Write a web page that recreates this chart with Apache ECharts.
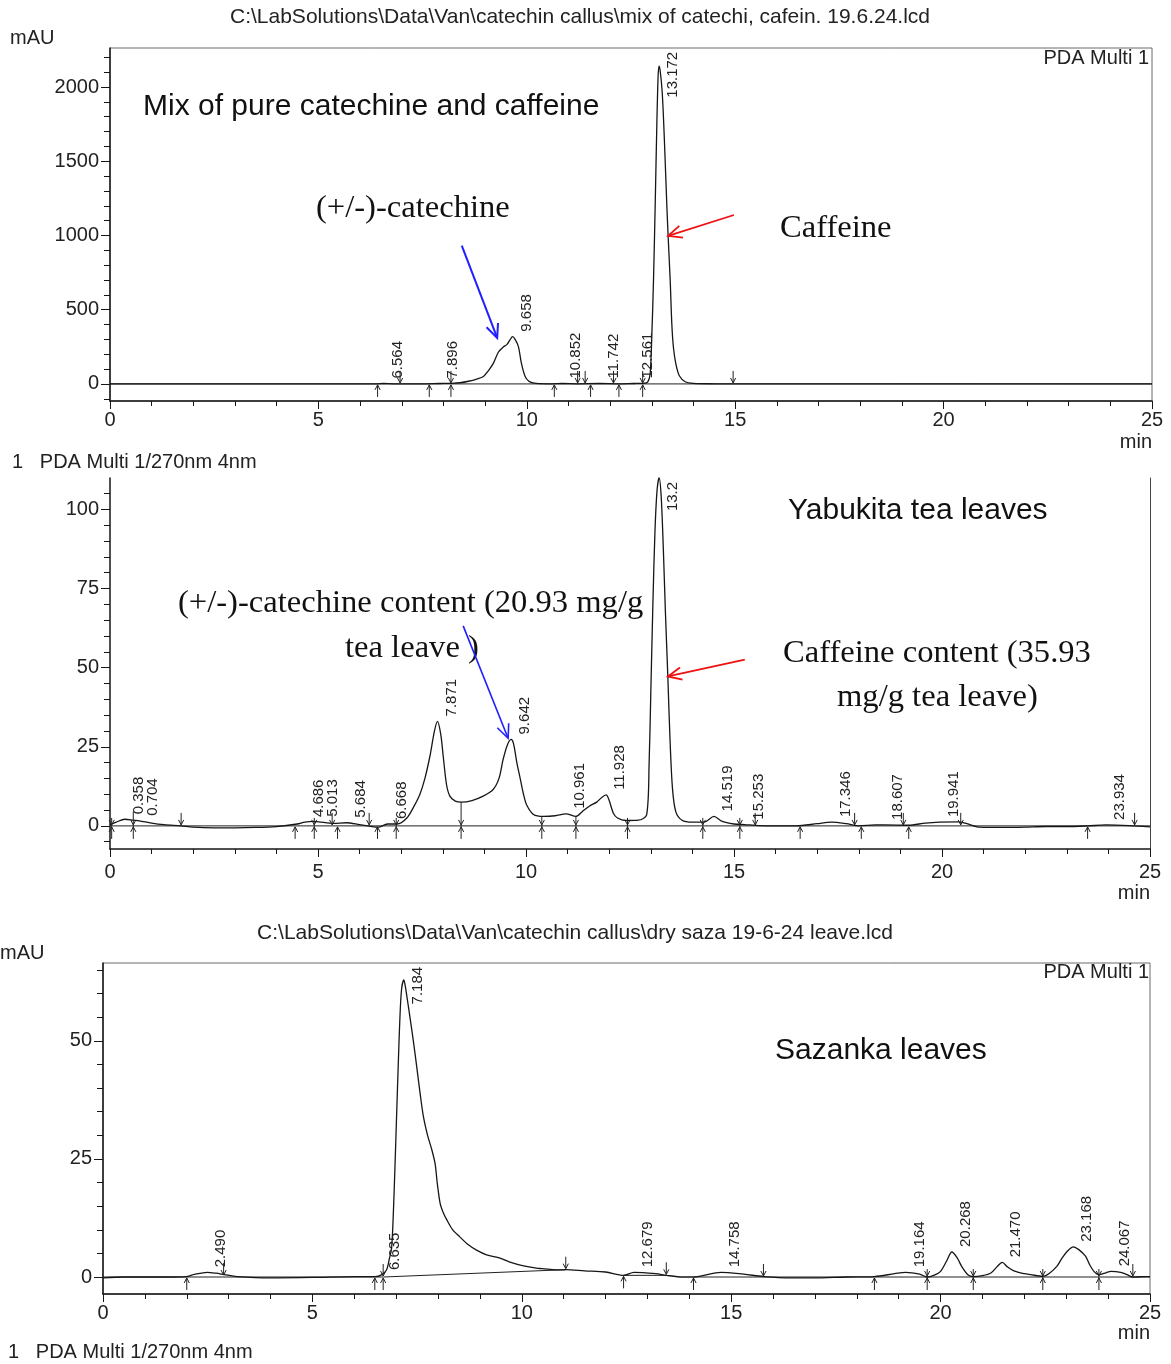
<!DOCTYPE html>
<html>
<head>
<meta charset="utf-8">
<title>HPLC chromatograms – catechin and caffeine</title>
<script src="https://cdn.jsdelivr.net/npm/echarts@6/dist/echarts.min.js"></script>
<style>
  html, body { margin: 0; padding: 0; background: #fff; }
  #chart { width: 1171px; height: 1364px; }
</style>
</head>
<body>
<div id="chart"></div>
<script>
// ---------- fonts ----------
const SANS = "'Liberation Sans', Arial, Helvetica, sans-serif";
const SERIF = "'Liberation Serif', 'Times New Roman', serif";

// ---------- axis ticks ----------
const timeRange = [0, 25];
const mixTicks = [0, 500, 1000, 1500, 2000];
const teaTicks = [0, 25, 50, 75, 100];
const sazTicks = [0, 25, 50];
const mixRange = [-115, 2263];
const teaRange = [-7.3, 109.9];
const sazRange = [-3.6, 66.5];

// ---------- panel 1: standard mix (time [min], absorbance [mAU]) ----------
const mixTrace = [
  [0, 0], [1, 0.5], [2, 0], [3, 0.5], [4, 0], [5, 0], [6, 0.5], [6.4, 0.8], [6.564, 3], [6.8, 1],
  [7.5, 1], [7.896, 3], [8.2, 4], [8.4, 8], [8.6, 18], [8.8, 33], [8.96, 50], [9.08, 90], [9.2, 140],
  [9.32, 215], [9.44, 250], [9.52, 265], [9.6, 298], [9.658, 318], [9.72, 300], [9.8, 250], [9.87, 140],
  [9.96, 50], [10.05, 18], [10.15, 7], [10.3, 2], [10.6, 1], [10.852, 3], [11.2, 1], [11.742, 3],
  [12.2, 1], [12.561, 3], [12.8, 4], [12.9, 12], [12.96, 70], [13.0, 330], [13.04, 700], [13.08, 1200],
  [13.12, 1750], [13.15, 2070], [13.172, 2141], [13.2, 2110], [13.25, 1960], [13.3, 1650], [13.36, 1200],
  [13.39, 1000], [13.44, 700], [13.48, 400], [13.52, 240], [13.58, 130], [13.66, 55], [13.8, 15],
  [14.0, 4], [14.5, 1], [15, 0], [17, 0], [19, 0], [21, 0], [25, 0]
];
const mixPeaks = ['6.564', '7.896', '9.658', '10.852', '11.742', '12.561', '13.172'];
const mixBase = [[[0, 0], [25, 0]]];
const mixUp = [[6.42, 0], [7.66, 0], [8.18, 0], [10.66, 0], [11.53, 0], [12.21, 0], [12.78, 0]];
const mixDown = [[6.96, 0], [8.18, 0], [11.22, 0], [11.40, 0], [12.08, 0], [12.78, 0], [14.95, 0]];
const mixCuts = [];

// ---------- panel 2: Yabukita tea leaves ----------
const teaTrace = [
  [0, 0.3], [0.15, 1.2], [0.358, 2.1], [0.56, 1.8], [0.704, 1.6], [1.0, 0.9], [1.3, 0.4], [1.7, 0],
  [2.0, -0.4], [2.5, -0.6], [3.0, -0.6], [3.5, -0.5], [4.0, -0.2], [4.5, 0.6], [4.686, 1.2], [4.9, 1.4],
  [5.013, 1.3], [5.37, 0.8], [5.684, 1.0], [6.0, 0.4], [6.2, 0], [6.45, -0.4], [6.668, 0.6], [6.9, 0.6],
  [7.13, 2.4], [7.3, 6], [7.45, 10], [7.57, 15], [7.69, 22], [7.8, 30], [7.871, 33], [7.95, 29],
  [8.01, 22], [8.09, 13], [8.17, 9.4], [8.3, 7.8], [8.45, 7.5], [8.7, 8], [8.97, 9.4], [9.21, 11.5],
  [9.35, 15], [9.45, 21], [9.55, 25.5], [9.642, 27.3], [9.7, 26], [9.78, 20], [9.86, 15], [9.94, 10],
  [10.02, 6.5], [10.18, 3.6], [10.42, 3], [10.7, 3.2], [10.961, 3.8], [11.2, 3], [11.35, 4.5],
  [11.53, 6.3], [11.7, 7.5], [11.82, 9], [11.928, 9.8], [12.0, 8], [12.1, 4], [12.2, 2.5], [12.4, 1.7],
  [12.7, 1.8], [12.9, 3.5], [12.96, 20], [13.0, 42], [13.05, 70], [13.1, 93], [13.15, 106], [13.2, 110],
  [13.25, 104], [13.3, 88], [13.35, 68], [13.41, 47], [13.46, 28], [13.52, 12], [13.6, 4.5],
  [13.75, 1.8], [14.0, 1.2], [14.3, 1.3], [14.519, 3], [14.7, 1.5], [15.0, 0.6], [15.253, 0.4],
  [15.6, 0.1], [16.0, 0], [16.5, 0], [17.0, 0.7], [17.346, 1.2], [17.7, 0.7], [18.0, 0], [18.4, 0.3],
  [18.607, 0.3], [19.2, 0.2], [19.6, 0.9], [19.941, 1.2], [20.4, 1.3], [20.6, 0.7], [20.9, -0.4],
  [21.5, -0.5], [22.0, -0.4], [22.5, -0.2], [23.0, -0.2], [23.5, 0], [23.934, 0.3], [24.5, 0.1], [25, -0.3]
];
const teaPeaks = ['0.358', '0.704', '4.686', '5.013', '5.684', '6.668', '7.871', '9.642', '10.961',
  '11.928', '13.2', '14.519', '15.253', '17.346', '18.607', '19.941', '23.934'];
const teaBase = [[[0, 0], [25, 0]]];
const teaUp = [[4.45, 0], [5.47, 0], [6.43, 0], [16.59, 0], [18.06, 0], [19.2, 0], [23.5, 0]];
const teaDown = [[1.71, 0], [5.34, 0], [6.23, 0], [15.51, 0], [17.9, 0], [19.07, 0], [20.45, 0], [24.63, 0]];
const teaCuts = [[0.04, 1], [0.56, 4.5], [4.91, 2.5], [6.88, 1.5], [8.44, 7.5], [10.38, 3], [11.2, 3],
  [12.44, 1.8], [14.25, 1.3], [15.14, 1]];

// ---------- panel 3: Sazanka leaves ----------
const sazTrace = [
  [0, -0.2], [0.5, 0], [1.0, 0], [1.5, 0], [2.0, 0.1], [2.2, 0.6], [2.49, 1.0], [2.7, 0.8], [2.9, 0.5],
  [3.2, 0.1], [4.0, -0.2], [5.0, -0.1], [6.0, 0.1], [6.5, 0.1], [6.635, 0.4], [6.77, 1.5], [6.84, 4],
  [6.89, 6], [6.93, 12.8], [6.97, 23], [7.01, 34], [7.05, 45], [7.09, 55], [7.13, 61], [7.184, 62.9],
  [7.22, 61.5], [7.28, 58], [7.33, 55], [7.41, 50], [7.49, 44.6], [7.57, 39], [7.65, 34], [7.75, 30],
  [7.85, 27], [7.93, 24], [7.98, 20], [8.05, 15.6], [8.13, 13.5], [8.21, 12.1], [8.35, 10], [8.52, 8.5],
  [8.7, 7], [8.92, 5.7], [9.16, 4.7], [9.48, 4.0], [9.7, 3.2], [9.96, 2.5], [10.2, 2.1], [10.43, 1.8],
  [10.91, 1.5], [11.05, 1.55], [11.5, 1.3], [12.0, 1.06], [12.43, 0.35], [12.679, 1.0], [13.2, 0.7],
  [13.45, 0.35], [13.85, 0], [14.1, 0], [14.758, 1.0], [15.3, 0.6], [15.77, 0.1], [16.4, -0.2],
  [16.96, -0.2], [17.75, 0], [18.42, 0.1], [18.9, 0.7], [19.164, 1.0], [19.5, 0.6], [19.68, 0],
  [19.85, 0.4], [20.0, 1.2], [20.15, 3.5], [20.268, 5.3], [20.4, 4], [20.5, 2.3], [20.65, 0.5],
  [20.78, 0.1], [21.0, 0.3], [21.2, 0.85], [21.35, 2.2], [21.47, 3.1], [21.6, 2.1], [21.75, 1.3],
  [22.0, 0.7], [22.15, 0.5], [22.44, 0.15], [22.6, 0.8], [22.78, 2.3], [22.9, 4], [23.02, 5.4],
  [23.168, 6.4], [23.3, 5.8], [23.46, 4.4], [23.56, 2.6], [23.66, 1.2], [23.78, 0.5], [23.95, 0.9],
  [24.067, 1.2], [24.3, 1.0], [24.45, 0.5], [24.59, 0], [24.92, 0.1], [25, 0.1]
];
const sazPeaks = ['2.490', '6.635', '7.184', '12.679', '14.758', '19.164', '20.268', '21.470', '23.168', '24.067'];
const sazBase = [[[0, 0], [6.69, 0], [11.05, 1.55]], [[12.43, 0.35], [13.45, 0.35]], [[14.1, 0], [25, 0]]];
const sazUp = [[2.0, 0], [6.49, 0], [6.69, 0], [12.43, 0.35], [14.1, 0], [18.42, 0]];
const sazDown = [[2.88, 0.2], [6.69, 0], [11.05, 1.55], [13.45, 0.35], [15.77, 0], [24.59, 0]];
const sazCuts = [[19.68, 1.2], [20.78, 1.2], [22.44, 1.2], [23.78, 1.2]];

// ---------- helpers ----------
function minorTicks(major, parts, range) {
  const step = major[1] - major[0];
  const sub = step / parts;
  const out = [];
  for (let v = major[0] - step; v <= major[major.length - 1] + step + 1e-9; v += sub) {
    const r = Math.round(v * 1000) / 1000;
    if (r > range[0] && r < range[1] && major.indexOf(r) < 0) out.push(r);
  }
  return out;
}

// highest trace value at a retention time (used to seat the peak label)
function apexAt(trace, t) {
  let best = -Infinity;
  for (let i = 0; i < trace.length - 1; i++) {
    const [x0, y0] = trace[i], [x1, y1] = trace[i + 1];
    if (t >= x0 && t <= x1) best = Math.max(best, y0 + (y1 - y0) * (t - x0) / (x1 - x0));
    if (Math.abs(x0 - t) <= 0.05) best = Math.max(best, y0);
  }
  return best;
}

const INK = '#161616';

function xAxisFor(gi, margin) {
  return {
    type: 'value', gridIndex: gi, min: timeRange[0], max: timeRange[1], interval: 5,
    axisLine: { onZero: false, lineStyle: { color: INK, width: 1.5 } },
    axisTick: { length: 8, lineStyle: { color: INK, width: 1 } },
    minorTick: { show: true, splitNumber: 5, length: 5, lineStyle: { color: INK, width: 1 } },
    splitLine: { show: false }, minorSplitLine: { show: false },
    axisLabel: { fontFamily: SANS, fontSize: 20, color: '#222', margin, formatter: v => String(v) }
  };
}
function yMain(gi, ticks, range) {
  return {
    type: 'value', gridIndex: gi, position: 'left', min: range[0], max: range[1],
    axisLine: { show: true, onZero: false, lineStyle: { color: INK, width: 1.5 } },
    axisTick: { show: true, length: 9, customValues: ticks, lineStyle: { color: INK, width: 1 } },
    axisLabel: { customValues: ticks, fontFamily: SANS, fontSize: 20, color: '#222', margin: 11,
      formatter: v => String(v) },
    splitLine: { show: false }
  };
}
function yMinor(gi, ticks, parts, range) {
  return {
    type: 'value', gridIndex: gi, position: 'left', min: range[0], max: range[1],
    axisLine: { show: false },
    axisTick: { show: true, length: 6, customValues: minorTicks(ticks, parts, range),
      lineStyle: { color: INK, width: 1 } },
    axisLabel: { show: false }, splitLine: { show: false }
  };
}

function traceSeries(xi, yi, data) {
  return { type: 'line', xAxisIndex: xi, yAxisIndex: yi, data, symbol: 'none', smooth: 0.3,
    clip: true, lineStyle: { color: INK, width: 1.3 }, z: 3, silent: true };
}
function baseSeries(xi, yi, segments) {
  return segments.map(seg => ({ type: 'line', xAxisIndex: xi, yAxisIndex: yi, data: seg, symbol: 'none',
    lineStyle: { color: '#222', width: 1 }, z: 2, silent: true }));
}
function peakLabelSeries(xi, yi, trace, peaks) {
  return {
    type: 'custom', xAxisIndex: xi, yAxisIndex: yi, silent: true, z: 5, clip: false,
    data: peaks.map(s => [parseFloat(s), apexAt(trace, parseFloat(s))]),
    encode: { x: 0, y: 1 },
    renderItem(params, api) {
      const text = peaks[params.dataIndex];
      const p = api.coord([api.value(0), api.value(1)]);
      const len = text.replace('.', '').length * 8.3 + 4.2;
      const top = params.coordSys.y;
      let y = p[1] - 5;
      if (y - len < top + 4) y = top + 4 + len;
      return {
        type: 'text', x: p[0] + 14, y, rotation: Math.PI / 2,
        style: { text, x: 0, y: 0, font: `15px ${SANS}`, fill: '#222',
          align: 'left', textAlign: 'left', verticalAlign: 'middle', textVerticalAlign: 'middle' }
      };
    }
  };
}
function head(x, y, dir) {
  // dir = 1: tip points up (shaft below), dir = -1: tip points down (shaft above)
  return { type: 'polyline', shape: { points: [[x - 2.6, y + dir * 6], [x, y + dir * 1], [x + 2.6, y + dir * 6]] },
    style: { stroke: '#222', lineWidth: 1, fill: null } };
}
function markerSeries(xi, yi, pts, kind) {
  return {
    type: 'custom', xAxisIndex: xi, yAxisIndex: yi, silent: true, z: 4, clip: false,
    data: pts, encode: { x: 0, y: 1 },
    renderItem(params, api) {
      const t = api.value(0), v = api.value(1);
      const s = { stroke: '#222', lineWidth: 1, fill: null };
      if (kind === 'cut') {
        const b = api.coord([t, 0]);
        const tp = api.coord([t, v]);
        return { type: 'group', children: [
          { type: 'line', shape: { x1: b[0], y1: Math.min(tp[1], b[1] - 8), x2: b[0], y2: b[1] + 13 }, style: s },
          head(b[0], b[1], 1), head(b[0], b[1], -1)
        ] };
      }
      const p = api.coord([t, v]);
      const dir = kind === 'up' ? 1 : -1;
      return { type: 'group', children: [
        { type: 'line', shape: { x1: p[0], y1: p[1] + dir * 13, x2: p[0], y2: p[1] + dir * 1 }, style: s },
        head(p[0], p[1], dir)
      ] };
    }
  };
}

// ---------- layout ----------
const grids = [
  { left: 110, top: 48, width: 1042, height: 353, show: true, borderColor: '#6a6a6a', borderWidth: 1 },
  { left: 110, top: 478, width: 1040, height: 371 },
  { left: 103, top: 963, width: 1047, height: 331, show: true, borderColor: '#6a6a6a', borderWidth: 1 }
];

const yAxes = [
  yMain(0, mixTicks, mixRange),        // 0
  yMinor(0, mixTicks, 5, mixRange),    // 1
  yMain(1, teaTicks, teaRange),        // 2
  yMinor(1, teaTicks, 5, teaRange),    // 3
  { type: 'value', gridIndex: 1, position: 'right', min: teaRange[0], max: teaRange[1],
    axisLine: { show: true, lineStyle: { color: '#444', width: 1 } }, axisTick: { show: false },
    axisLabel: { show: false }, splitLine: { show: false } },   // 4: right frame of panel 2
  yMain(2, sazTicks, sazRange),        // 5
  yMinor(2, sazTicks, 5, sazRange)     // 6
];

const panels = [
  { xi: 0, yi: 0, trace: mixTrace, peaks: mixPeaks, base: mixBase, up: mixUp, down: mixDown, cuts: mixCuts },
  { xi: 1, yi: 2, trace: teaTrace, peaks: teaPeaks, base: teaBase, up: teaUp, down: teaDown, cuts: teaCuts },
  { xi: 2, yi: 5, trace: sazTrace, peaks: sazPeaks, base: sazBase, up: sazUp, down: sazDown, cuts: sazCuts }
];

const series = [];
panels.forEach(p => {
  series.push(...baseSeries(p.xi, p.yi, p.base));
  series.push(traceSeries(p.xi, p.yi, p.trace));
  series.push(markerSeries(p.xi, p.yi, p.up, 'up'));
  series.push(markerSeries(p.xi, p.yi, p.down, 'down'));
  if (p.cuts.length) series.push(markerSeries(p.xi, p.yi, p.cuts, 'cut'));
  series.push(peakLabelSeries(p.xi, p.yi, p.trace, p.peaks));
});

const chart = echarts.init(document.getElementById('chart'), null, { renderer: 'canvas' });
chart.setOption({
  animation: false,
  backgroundColor: '#ffffff',
  grid: grids,
  xAxis: [xAxisFor(0, 9), xAxisFor(1, 13), xAxisFor(2, 9)],
  yAxis: yAxes,
  series
});

// ---------- text and arrows ----------
function txt(text, x, y, font, align, fill) {
  align = align || 'left';
  return { type: 'text', x, y, z: 20, silent: true,
    style: { text, font, fill: fill || '#111', align, textAlign: align,
      verticalAlign: 'middle', textVerticalAlign: 'middle' } };
}
function arrow(axes, from, to, color, width) {
  const a = chart.convertToPixel(axes, from);
  const b = chart.convertToPixel(axes, to);
  const ang = Math.atan2(b[1] - a[1], b[0] - a[0]);
  const L = 15, spread = 0.42;
  const h1 = [b[0] - L * Math.cos(ang - spread), b[1] - L * Math.sin(ang - spread)];
  const h2 = [b[0] - L * Math.cos(ang + spread), b[1] - L * Math.sin(ang + spread)];
  return [
    { type: 'line', z: 20, silent: true, shape: { x1: a[0], y1: a[1], x2: b[0], y2: b[1] },
      style: { stroke: color, lineWidth: width } },
    { type: 'polyline', z: 20, silent: true, shape: { points: [h1, b, h2] },
      style: { stroke: color, lineWidth: width, fill: null } }
  ];
}

const ax1 = { xAxisIndex: 0, yAxisIndex: 0 };
const ax2 = { xAxisIndex: 1, yAxisIndex: 2 };
const BLUE = '#1f1fff', RED = '#ee1111';

const F_HDR = `21px ${SANS}`;
const F_NOTE = `30px ${SANS}`;
const F_SERIF = `32.6px ${SERIF}`;

chart.setOption({
  graphic: [
    txt('C:\\LabSolutions\\Data\\Van\\catechin callus\\mix of catechi, cafein. 19.6.24.lcd', 580, 17, F_HDR, 'center', '#222'),
    txt('mAU', 10, 38, `20px ${SANS}`, 'left', '#222'),
    txt('PDA Multi 1', 1149, 58, `20px ${SANS}`, 'right', '#222'),
    txt('min', 1152, 442, `20px ${SANS}`, 'right', '#222'),
    txt('1   PDA Multi 1/270nm 4nm', 12, 462, `20px ${SANS}`, 'left', '#222'),

    txt('Mix of pure catechine and caffeine', 143, 107, F_NOTE),
    txt('(+/-)-catechine', 316, 208, F_SERIF),
    txt('Caffeine', 780, 228, F_SERIF),

    txt('Yabukita tea leaves', 788, 511, F_NOTE),
    txt('(+/-)-catechine content (20.93 mg/g', 178, 603, F_SERIF),
    txt('tea leave )', 345, 648, F_SERIF),
    txt('Caffeine content (35.93', 783, 653, F_SERIF),
    txt('mg/g tea leave)', 837, 697, F_SERIF),
    txt('min', 1150, 893, `20px ${SANS}`, 'right', '#222'),

    txt('C:\\LabSolutions\\Data\\Van\\catechin callus\\dry saza 19-6-24 leave.lcd', 575, 933, F_HDR, 'center', '#222'),
    txt('mAU', 0, 953, `20px ${SANS}`, 'left', '#222'),
    txt('PDA Multi 1', 1149, 972, `20px ${SANS}`, 'right', '#222'),
    txt('Sazanka leaves', 775, 1051, F_NOTE),
    txt('min', 1150, 1333, `20px ${SANS}`, 'right', '#222'),
    txt('1   PDA Multi 1/270nm 4nm', 8, 1352, `20px ${SANS}`, 'left', '#222'),

    ...arrow(ax1, [8.44, 932], [9.29, 310], BLUE, 2),
    ...arrow(ax1, [14.97, 1138], [13.39, 997], RED, 1.8),
    ...arrow(ax2, [8.49, 63.2], [9.57, 27.7], BLUE, 1.6),
    ...arrow(ax2, [15.26, 52.5], [13.41, 47.2], RED, 1.8)
  ]
});
</script>
</body>
</html>
